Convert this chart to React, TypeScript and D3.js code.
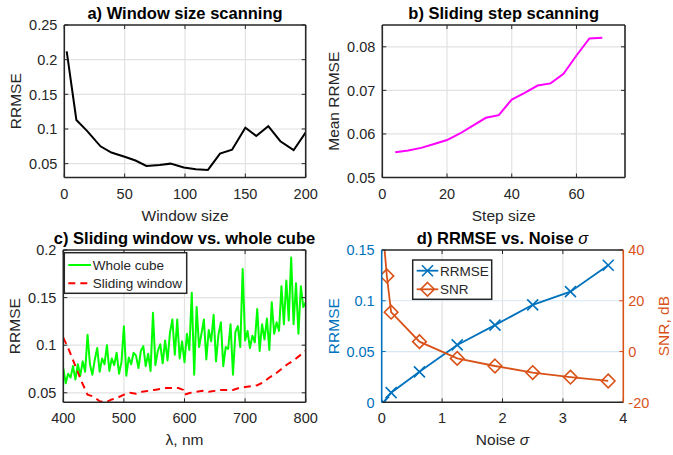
import React, { useEffect, useRef } from 'react'
import * as d3 from 'd3'

// a) window size scanning
const windowSizes = [2, 10, 19, 30, 39, 50, 59, 68, 79, 88, 99, 109, 119, 129, 139, 150, 159, 169, 179, 190, 200]
const windowRrmse = [0.212, 0.113, 0.097, 0.075, 0.066, 0.060, 0.0545, 0.0466, 0.048, 0.050, 0.0445, 0.042, 0.041, 0.0645, 0.070, 0.1017, 0.090, 0.104, 0.0823, 0.0694, 0.0952]

// b) sliding step scanning
const stepSizes = [4, 8, 12, 16, 20, 24, 28, 32, 36, 40, 44, 48, 52, 56, 60, 64, 68]
const stepRrmse = [0.0558, 0.0562, 0.0568, 0.0577, 0.0586, 0.0601, 0.0619, 0.0637, 0.0643, 0.0679, 0.0694, 0.0711, 0.0716, 0.0738, 0.0780, 0.0819, 0.0821]

// c) sliding window vs whole cube
const cubeNm = [400, 404, 408, 412, 416, 420, 424, 428, 432, 436, 440, 444, 448, 452, 456, 460, 464, 468, 472, 476,
  480, 484, 488, 492, 496, 500, 504, 508, 512, 516, 520, 524, 528, 532, 536, 540, 544, 548, 552, 556,
  560, 564, 568, 572, 576, 580, 584, 588, 592, 596, 600, 604, 608, 612, 616, 620, 624, 628, 632, 636,
  640, 644, 648, 652, 656, 660, 664, 668, 672, 676, 680, 684, 688, 692, 696, 700, 704, 708, 712, 716,
  720, 724, 728, 732, 736, 740, 744, 748, 752, 756, 760, 764, 768, 772, 776, 780, 784, 788, 792, 796, 800]
const cubeRrmse = [0.076, 0.060, 0.070, 0.066, 0.078, 0.064, 0.080, 0.068, 0.083, 0.072, 0.111, 0.080, 0.069, 0.085, 0.097, 0.072, 0.086, 0.080, 0.100, 0.073,
  0.086, 0.079, 0.092, 0.070, 0.082, 0.120, 0.068, 0.087, 0.080, 0.092, 0.089, 0.076, 0.094, 0.099, 0.078, 0.091, 0.073, 0.134, 0.079, 0.094,
  0.101, 0.081, 0.105, 0.084, 0.113, 0.127, 0.090, 0.127, 0.086, 0.104, 0.082, 0.112, 0.095, 0.155, 0.069, 0.140, 0.098, 0.112, 0.127, 0.085,
  0.116, 0.104, 0.132, 0.083, 0.111, 0.124, 0.078, 0.098, 0.096, 0.122, 0.069, 0.114, 0.120, 0.098, 0.180, 0.105, 0.115, 0.097, 0.110, 0.103,
  0.138, 0.094, 0.122, 0.106, 0.128, 0.095, 0.145, 0.112, 0.124, 0.115, 0.162, 0.122, 0.168, 0.126, 0.192, 0.122, 0.165, 0.112, 0.162, 0.140, 0.145]
const slideNm = [400, 410, 420, 430, 440, 450, 460, 470, 480, 490, 500, 510, 520, 530, 540, 550, 560, 570, 580, 590, 598,
  600, 610, 620, 630, 640, 650, 660, 670, 680, 690, 700, 710, 720, 730, 740, 750, 760, 770, 780, 790, 800]
const slideRrmse = [0.108, 0.094, 0.078, 0.062, 0.048, 0.046, 0.041, 0.040, 0.043, 0.045, 0.048, 0.050, 0.049, 0.051, 0.052, 0.053, 0.054, 0.055, 0.055, 0.055, 0.053,
  0.048, 0.050, 0.051, 0.052, 0.051, 0.052, 0.053, 0.053, 0.053, 0.055, 0.056, 0.057, 0.058, 0.061, 0.066, 0.070, 0.075, 0.080, 0.084, 0.089, 0.094]

// d) RRMSE vs noise sigma
const rrmseSigma = [0.03, 0.156, 0.625, 1.25, 1.875, 2.5, 3.125, 3.75]
const rrmseNoise = [0, 0.0095, 0.030, 0.0565, 0.076, 0.096, 0.109, 0.135]
const snrSigma = [0.03, 0.085, 0.156, 0.625, 1.25, 1.875, 2.5, 3.125, 3.75]
const snrDb = [45, 29.8, 15.5, 3.9, -2.7, -5.7, -8.3, -10.1, -11.6]

const FONT = '"Liberation Sans", Arial, Helvetica, sans-serif'
const AX = '#262626'
const GRID = '#e2e2e2'
const BLUE = '#0072BD'
const ORANGE = '#D95319'

type Box = { l: number, r: number, t: number, b: number }

function panel(svg: any, id: string, box: Box, x: any, y: any, xTicks: number[], yTicks: number[], o: any = {}) {
  const { l, r, t, b } = box
  svg.append('clipPath').attr('id', id + '-clip')
    .append('rect').attr('x', l).attr('y', t).attr('width', r - l).attr('height', b - t)
  const g = svg.append('g').attr('id', id)

  // grid
  const grid = g.append('g').attr('stroke-width', 1.2)
  grid.selectAll('.gx').data(xTicks.filter(v => x(v) > l + 1 && x(v) < r - 1)).join('line')
    .attr('x1', (d: number) => x(d)).attr('x2', (d: number) => x(d)).attr('y1', t).attr('y2', b)
    .attr('stroke', GRID)
  grid.selectAll('.gy').data(yTicks.filter(v => y(v) > t + 1 && y(v) < b - 1)).join('line')
    .attr('y1', (d: number) => y(d)).attr('y2', (d: number) => y(d)).attr('x1', l).attr('x2', r)
    .attr('stroke', o.gridY || GRID)

  const plot = g.append('g').attr('clip-path', `url(#${id}-clip)`)
  const axes = g.append('g').attr('font-family', FONT).attr('font-size', 14.5)
  const lc = o.leftColor || AX
  const rc = o.rightColor || AX

  // x ticks top and bottom
  xTicks.forEach(v => {
    axes.append('line').attr('x1', x(v)).attr('x2', x(v)).attr('y1', b).attr('y2', b - 4).attr('stroke', AX)
    axes.append('line').attr('x1', x(v)).attr('x2', x(v)).attr('y1', t).attr('y2', t + 4).attr('stroke', AX)
    axes.append('text').attr('x', x(v)).attr('y', b + 21).attr('text-anchor', 'middle').attr('fill', AX).text(String(v))
  })
  yTicks.forEach(v => {
    axes.append('line').attr('x1', l).attr('x2', l + 4).attr('y1', y(v)).attr('y2', y(v)).attr('stroke', lc)
    if (!o.right) axes.append('line').attr('x1', r).attr('x2', r - 4).attr('y1', y(v)).attr('y2', y(v)).attr('stroke', AX)
    axes.append('text').attr('x', l - 7).attr('y', y(v)).attr('dy', '0.36em').attr('text-anchor', 'end').attr('fill', lc).text(String(v))
  })
  if (o.right) {
    o.right.ticks.forEach((v: number) => {
      const yy = o.right.scale(v)
      axes.append('line').attr('x1', r).attr('x2', r - 4).attr('y1', yy).attr('y2', yy).attr('stroke', rc)
      axes.append('text').attr('x', r + 5).attr('y', yy).attr('dy', '0.36em').attr('text-anchor', 'start').attr('fill', rc).text(String(v))
    })
  }
  // box
  axes.append('line').attr('x1', l).attr('x2', r).attr('y1', t).attr('y2', t).attr('stroke', AX).attr('stroke-width', 1.6)
  axes.append('line').attr('x1', l).attr('x2', r).attr('y1', b).attr('y2', b).attr('stroke', AX).attr('stroke-width', 1.6)
  axes.append('line').attr('x1', l).attr('x2', l).attr('y1', t).attr('y2', b).attr('stroke', lc).attr('stroke-width', 1.6)
  axes.append('line').attr('x1', r).attr('x2', r).attr('y1', t).attr('y2', b).attr('stroke', rc).attr('stroke-width', 1.6)

  // labels
  const ty = axes.append('text').attr('x', (l + r) / 2).attr('y', t - 6).attr('text-anchor', 'middle')
    .attr('font-weight', 'bold').attr('font-size', 16.5).attr('fill', '#000').text(o.title)
  if (o.titleSigma) ty.append('tspan').attr('font-style', 'italic').attr('font-weight', 'normal').text('σ')
  const xl = axes.append('text').attr('x', (l + r) / 2).attr('y', b + 43).attr('text-anchor', 'middle')
    .attr('font-size', 15.5).attr('fill', AX).text(o.xLabel)
  if (o.xSigma) xl.append('tspan').attr('font-style', 'italic').text('σ')
  axes.append('text').attr('transform', `translate(${l - 43},${(t + b) / 2}) rotate(-90)`)
    .attr('text-anchor', 'middle').attr('font-size', 15.5).attr('fill', lc).text(o.yLabel)
  if (o.right) {
    axes.append('text').attr('transform', `translate(${r + 46},${(t + b) / 2}) rotate(-90)`)
      .attr('text-anchor', 'middle').attr('font-size', 15.5).attr('fill', rc).text(o.right.label)
  }
  return { plot, axes }
}

const xMark = (s: number) => `M${-s},${-s}L${s},${s}M${-s},${s}L${s},${-s}`
const diamond = (s: number) => `M0,${-s}L${s},0L0,${s}L${-s},0Z`

export default function App() {
  const ref = useRef<SVGSVGElement>(null)

  useEffect(() => {
    const svg = d3.select(ref.current)
    svg.selectAll('*').remove()

    // a)
    const boxA = { l: 64.3, r: 305.7, t: 25, b: 177.5 }
    const xA = d3.scaleLinear().domain([0, 200]).range([boxA.l, boxA.r])
    const yA = d3.scaleLinear().domain([0.03, 0.25]).range([boxA.b, boxA.t])
    const pa = panel(svg, 'pa', boxA, xA, yA, [0, 50, 100, 150, 200], [0.05, 0.1, 0.15, 0.2, 0.25],
      { title: 'a) Window size scanning', xLabel: 'Window size', yLabel: 'RRMSE' })
    pa.plot.append('path').datum(windowSizes.map((v, i) => [v, windowRrmse[i]]))
      .attr('d', d3.line().x((d: any) => xA(d[0])).y((d: any) => yA(d[1])))
      .attr('fill', 'none').attr('stroke', '#000').attr('stroke-width', 2)

    // b)
    const boxB = { l: 382.3, r: 625, t: 25, b: 177.5 }
    const xB = d3.scaleLinear().domain([0, 75]).range([boxB.l, boxB.r])
    const yB = d3.scaleLinear().domain([0.05, 0.085]).range([boxB.b, boxB.t])
    const pb = panel(svg, 'pb', boxB, xB, yB, [0, 20, 40, 60], [0.05, 0.06, 0.07, 0.08],
      { title: 'b) Sliding step scanning', xLabel: 'Step size', yLabel: 'Mean RRMSE' })
    pb.plot.append('path').datum(stepSizes.map((v, i) => [v, stepRrmse[i]]))
      .attr('d', d3.line().x((d: any) => xB(d[0])).y((d: any) => yB(d[1])))
      .attr('fill', 'none').attr('stroke', '#ff00ff').attr('stroke-width', 2)

    // c)
    const boxC = { l: 63.3, r: 305.7, t: 250, b: 402.3 }
    const xC = d3.scaleLinear().domain([400, 800]).range([boxC.l, boxC.r])
    const yC = d3.scaleLinear().domain([0.04, 0.2]).range([boxC.b, boxC.t])
    const pc = panel(svg, 'pc', boxC, xC, yC, [400, 500, 600, 700, 800], [0.05, 0.1, 0.15, 0.2],
      { title: 'c) Sliding window vs. whole cube', xLabel: 'λ, nm', yLabel: 'RRMSE' })
    const lineC = d3.line().x((d: any) => xC(d[0])).y((d: any) => yC(d[1]))
    pc.plot.append('path').datum(cubeNm.map((v, i) => [v, cubeRrmse[i]]))
      .attr('d', lineC).attr('fill', 'none').attr('stroke', '#00ff00').attr('stroke-width', 2).attr('stroke-linejoin', 'round')
    pc.plot.append('path').datum(slideNm.map((v, i) => [v, slideRrmse[i]]))
      .attr('d', lineC).attr('fill', 'none').attr('stroke', '#ff0000').attr('stroke-width', 2).attr('stroke-dasharray', '7,5')
    const legC = pc.axes.append('g').attr('font-size', 13.5)
    legC.append('rect').attr('x', 64.3).attr('y', 252.7).attr('width', 122.4).attr('height', 40.6)
      .attr('fill', '#fff').attr('stroke', AX).attr('stroke-width', 1.5)
    legC.append('line').attr('x1', 68.3).attr('x2', 91).attr('y1', 265).attr('y2', 265).attr('stroke', '#00ff00').attr('stroke-width', 2)
    legC.append('line').attr('x1', 68.3).attr('x2', 91).attr('y1', 283.3).attr('y2', 283.3).attr('stroke', '#ff0000').attr('stroke-width', 2).attr('stroke-dasharray', '7,5')
    legC.append('text').attr('x', 92.7).attr('y', 270).attr('fill', AX).text('Whole cube')
    legC.append('text').attr('x', 92.7).attr('y', 288).attr('fill', AX).text('Sliding window')

    // d)
    const boxD = { l: 381.7, r: 623.3, t: 250, b: 402.3 }
    const xD = d3.scaleLinear().domain([0, 4]).range([boxD.l, boxD.r])
    const yD = d3.scaleLinear().domain([0, 0.15]).range([boxD.b, boxD.t])
    const yR = d3.scaleLinear().domain([-20, 40]).range([boxD.b, boxD.t])
    const pd = panel(svg, 'pd', boxD, xD, yD, [0, 1, 2, 3, 4], [0, 0.05, 0.1, 0.15],
      {
        title: 'd) RRMSE vs. Noise ', titleSigma: true, xLabel: 'Noise ', xSigma: true, yLabel: 'RRMSE',
        leftColor: BLUE, rightColor: ORANGE, gridY: '#d6e8f5',
        right: { scale: yR, ticks: [-20, 0, 20, 40], label: 'SNR, dB' }
      })
    const rr = rrmseSigma.map((v, i) => [v, rrmseNoise[i]])
    pd.plot.append('path').datum(rr)
      .attr('d', d3.line().x((d: any) => xD(d[0])).y((d: any) => yD(d[1])))
      .attr('fill', 'none').attr('stroke', BLUE).attr('stroke-width', 1.8)
    pd.plot.selectAll('.xm').data(rr).join('path')
      .attr('transform', (d: any) => `translate(${xD(d[0])},${yD(d[1])})`)
      .attr('d', xMark(5.5)).attr('fill', 'none').attr('stroke', BLUE).attr('stroke-width', 1.6)
    const sn = snrSigma.map((v, i) => [v, snrDb[i]])
    pd.plot.append('path').datum(sn)
      .attr('d', d3.line().x((d: any) => xD(d[0])).y((d: any) => yR(d[1])))
      .attr('fill', 'none').attr('stroke', ORANGE).attr('stroke-width', 1.8)
    pd.plot.selectAll('.dm').data(sn).join('path')
      .attr('transform', (d: any) => `translate(${xD(d[0])},${yR(d[1])})`)
      .attr('d', diamond(6.8)).attr('fill', 'none').attr('stroke', ORANGE).attr('stroke-width', 1.6)
    const legD = pd.axes.append('g').attr('font-size', 13.5)
    legD.append('rect').attr('x', 412.7).attr('y', 260).attr('width', 79).attr('height', 39.3)
      .attr('fill', '#fff').attr('stroke', AX).attr('stroke-width', 1.5)
    legD.append('line').attr('x1', 416.7).attr('x2', 438.3).attr('y1', 270.7).attr('y2', 270.7).attr('stroke', BLUE).attr('stroke-width', 1.8)
    legD.append('path').attr('transform', 'translate(427.5,270.7)').attr('d', xMark(5.5)).attr('fill', 'none').attr('stroke', BLUE).attr('stroke-width', 1.6)
    legD.append('line').attr('x1', 416.7).attr('x2', 438.3).attr('y1', 289.3).attr('y2', 289.3).attr('stroke', ORANGE).attr('stroke-width', 1.8)
    legD.append('path').attr('transform', 'translate(427.5,289.3)').attr('d', diamond(6.8)).attr('fill', 'none').attr('stroke', ORANGE).attr('stroke-width', 1.6)
    legD.append('text').attr('x', 440).attr('y', 275.5).attr('fill', AX).text('RRMSE')
    legD.append('text').attr('x', 440).attr('y', 294).attr('fill', AX).text('SNR')
  }, [])

  return (
    <svg ref={ref} width={673} height={455}
      style={{ position: 'absolute', left: 0, top: 0, background: '#fff', display: 'block' }} />
  )
}
